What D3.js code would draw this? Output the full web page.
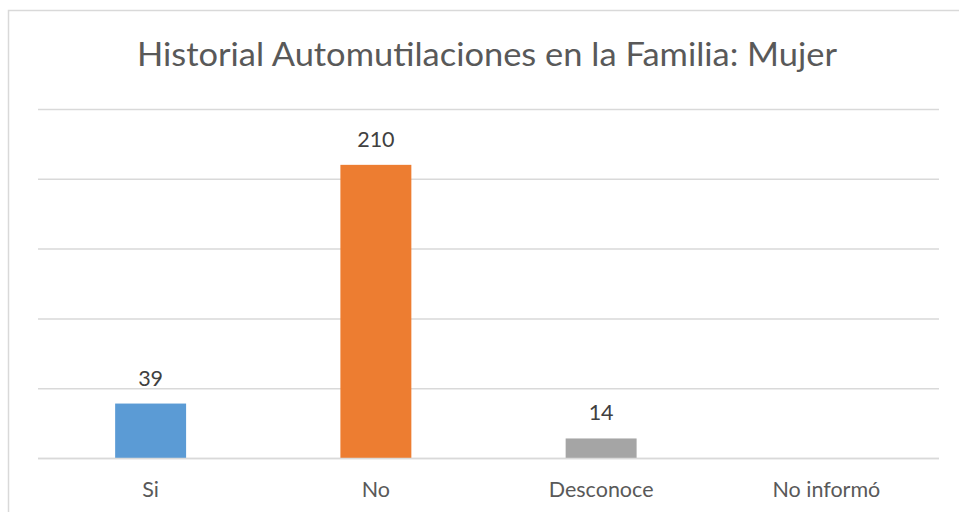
<!DOCTYPE html>
<html>
<head>
<meta charset="utf-8">
<script src="https://cdn.jsdelivr.net/npm/d3@7"></script>
<style>
  html, body { margin: 0; padding: 0; background: #ffffff; }
  svg { display: block; }
</style>
</head>
<body>
<svg id="chart" width="959" height="512"></svg>
<script>
const title = "Historial Automutilaciones en la Familia: Mujer";
const categories = ["Si", "No", "Desconoce", "No informó"];
const values = [39, 210, 14, null];
const colors = ["#5B9BD5", "#ED7D31", "#A5A5A5", "#FFC000"];
const yTicks = [0, 50, 100, 150, 200, 250];

const svg = d3.select("#chart");
const font = "Lato, 'Open Sans', sans-serif";
const textColor = "#595959";

// chart border
svg.append("rect")
  .attr("x", 8.5).attr("y", 10.5)
  .attr("width", 970).attr("height", 540)
  .attr("fill", "#fff")
  .attr("stroke", "#D9D9D9").attr("stroke-width", 1.5);

const x = d3.scaleBand()
  .domain(categories)
  .range([38, 939])
  .paddingInner(0.685)
  .paddingOuter(0.3425);

const y = d3.scaleLinear()
  .domain([0, 250])
  .range([458, 109]);

// gridlines
const grid = svg.append("g")
  .attr("transform", "translate(38,0)")
  .call(d3.axisLeft(y).tickValues(yTicks).tickSize(-(939 - 38)).tickFormat(""));
grid.select(".domain").remove();
grid.selectAll(".tick line").attr("stroke", "#D9D9D9").attr("stroke-width", 1.5);

// bars
const data = categories.map((c, i) => ({ c, v: values[i], color: colors[i] }))
  .filter(d => d.v !== null);

svg.append("g").selectAll("rect")
  .data(data)
  .join("rect")
  .attr("x", d => x(d.c))
  .attr("y", d => y(d.v))
  .attr("width", x.bandwidth())
  .attr("height", d => y(0) - y(d.v))
  .attr("fill", d => d.color);

// baseline redraw on top
svg.append("line")
  .attr("x1", 38).attr("x2", 939)
  .attr("y1", y(0) + 0.5).attr("y2", y(0) + 0.5)
  .attr("stroke", "#D9D9D9").attr("stroke-width", 1.5);

// data labels
svg.append("g").selectAll("text")
  .data(data)
  .join("text")
  .attr("x", d => x(d.c) + x.bandwidth() / 2)
  .attr("y", d => y(d.v) - 18)
  .attr("text-anchor", "middle")
  .attr("font-family", font)
  .attr("font-size", 21.5)
  .attr("fill", "#404040")
  .text(d => d.v);

// category axis labels
const xAxis = svg.append("g")
  .attr("transform", `translate(0,${y(0)})`)
  .call(d3.axisBottom(x).tickSize(0).tickPadding(0));
xAxis.select(".domain").remove();
xAxis.selectAll(".tick text")
  .attr("y", 39)
  .attr("dy", 0)
  .attr("font-family", font)
  .attr("font-size", 21.5)
  .attr("fill", textColor);

// title
svg.append("text")
  .attr("x", 487)
  .attr("y", 66)
  .attr("text-anchor", "middle")
  .attr("font-family", font)
  .attr("font-size", 33)
  .attr("textLength", 700)
  .attr("lengthAdjust", "spacingAndGlyphs")
  .attr("fill", textColor)
  .text(title);
</script>
</body>
</html>
